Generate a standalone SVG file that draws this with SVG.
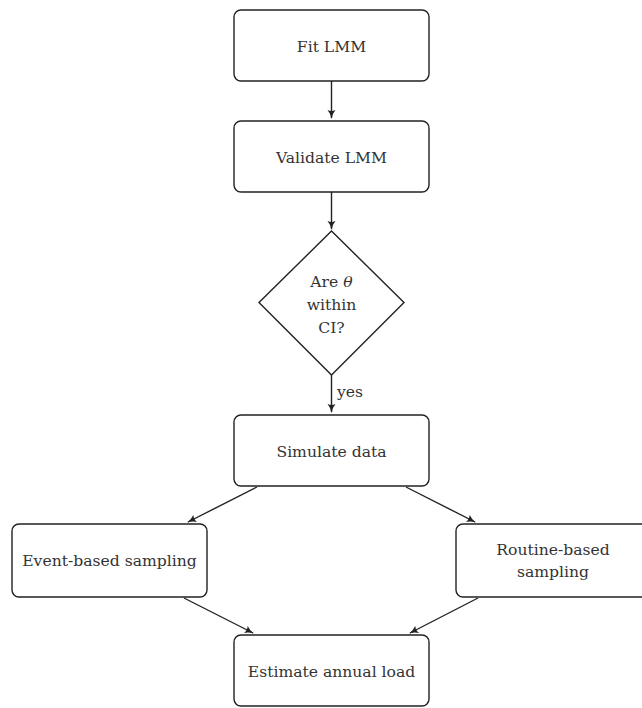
<svg xmlns="http://www.w3.org/2000/svg" width="642" height="708" viewBox="0 0 642 708">
<style>
.box{fill:#fff;stroke:#222;stroke-width:1.4}
.t{font-family:'DejaVu Serif',serif;font-size:15.6px;fill:#333;text-anchor:middle}
.c{stroke:#222;stroke-width:1.4;fill:none;marker-end:url(#ah)}
</style>
<defs>
<marker id="ah" viewBox="0 0 10 10" refX="9" refY="5" markerWidth="9" markerHeight="9" markerUnits="userSpaceOnUse" orient="auto">
<path d="M0,0.5 Q4,4 10,5 Q4,6 0,9.5 Q2.5,5 0,0.5Z" fill="#222"/>
</marker>
</defs>
<rect width="642" height="708" fill="#fff"/>
<g id="connectors">
<line class="c" x1="331.5" y1="81" x2="331.5" y2="118"/>
<line class="c" x1="331.5" y1="192" x2="331.5" y2="229"/>
<line class="c" x1="331.5" y1="375" x2="331.5" y2="412"/>
<line class="c" x1="257" y1="487" x2="188" y2="522"/>
<line class="c" x1="406" y1="487" x2="475" y2="522"/>
<line class="c" x1="184" y1="598" x2="253" y2="633"/>
<line class="c" x1="478" y1="598" x2="410" y2="633"/>
<text class="t" x="350" y="397">yes</text>
</g>
<g id="fit">
<rect class="box" x="234" y="10" width="195" height="71" rx="7"/>
<text class="t" x="331.5" y="52">Fit LMM</text>
</g>
<g id="validate">
<rect class="box" x="234" y="121" width="195" height="71" rx="7"/>
<text class="t" x="331.5" y="163">Validate LMM</text>
</g>
<g id="decision">
<polygon class="box" points="331.5,231 404,302.5 331.5,375 259,302.5"/>
<text class="t" x="331.5" y="287">Are <tspan font-style="italic">θ</tspan></text>
<text class="t" x="331.5" y="310">within</text>
<text class="t" x="331.5" y="333">CI?</text>
</g>
<g id="simulate">
<rect class="box" x="234" y="415" width="195" height="71" rx="7"/>
<text class="t" x="331.5" y="457">Simulate data</text>
</g>
<g id="event">
<rect class="box" x="12" y="524" width="195" height="73" rx="7"/>
<text class="t" x="109.5" y="566">Event-based sampling</text>
</g>
<g id="routine">
<rect class="box" x="456" y="524" width="195" height="73" rx="7"/>
<text class="t" x="553" y="555">Routine-based</text>
<text class="t" x="553" y="577">sampling</text>
</g>
<g id="estimate">
<rect class="box" x="234" y="635" width="195" height="71" rx="7"/>
<text class="t" x="331.5" y="677">Estimate annual load</text>
</g>
</svg>
